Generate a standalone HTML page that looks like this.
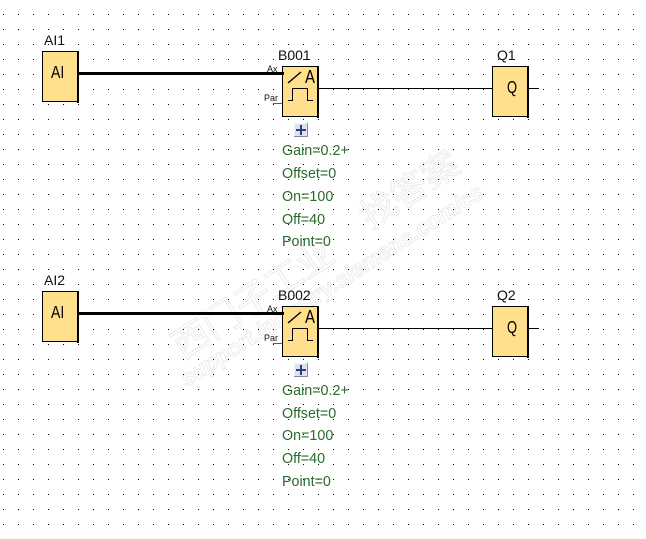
<!DOCTYPE html>
<html><head><meta charset="utf-8"><style>
html,body{margin:0;padding:0;background:#fff}
svg{display:block}
text{font-family:"Liberation Sans","Noto Sans CJK SC",sans-serif}
.l{font-size:14px;fill:#111}
.g{font-size:14.3px;fill:#2a6a2a}
.p{font-size:9px;fill:#111}
.b{fill:#ffdf8c;stroke:#000;stroke-width:1}
.w{fill:#fff;stroke:#ebebeb;stroke-width:1}
</style></head><body>
<svg width="646" height="539" viewBox="0 0 646 539" xmlns="http://www.w3.org/2000/svg">
<defs>
<pattern id="d" x="3" y="14" width="15" height="15" patternUnits="userSpaceOnUse"><rect width="1" height="1" fill="#000"/></pattern>
<g id="fb" shape-rendering="crispEdges">
<rect class="b" x="282.500" y="66.500" width="35" height="50"/>
<rect x="317" y="66" width="2" height="52" fill="#000"/>
<rect x="273" y="103" width="9" height="1" fill="#2a7a2a"/>
<rect x="278" y="72" width="6" height="3" fill="#000"/>
</g>
<g id="sym" fill="none" stroke="#000" stroke-width="1">
<path d="M288 83 L301 72" stroke-width="1.4"/>
<path d="M288 100.500H292.500V88.500H307.500V100.500H313" shape-rendering="crispEdges"/>
</g>
<g id="plus" shape-rendering="crispEdges">
<rect x="294" y="123" width="14" height="14" fill="#8a8a8a"/>
<rect x="294" y="123" width="13" height="13" fill="#f4f4f4"/>
<rect x="295" y="124" width="12" height="12" fill="#dfe1ea"/>
<rect x="296" y="129" width="10" height="2" fill="#24408c"/>
<rect x="300" y="125" width="2" height="10" fill="#24408c"/>
</g>
</defs>
<rect width="646" height="539" fill="#fff"/>
<text class="w" transform="translate(183 360) rotate(-33)" textLength="184" lengthAdjust="spacingAndGlyphs" style="font-size:37px">西门子工业</text>
<text class="w" transform="translate(370 230) rotate(-33)" textLength="110" lengthAdjust="spacingAndGlyphs" style="font-size:35px">找答案</text>
<text class="w" transform="translate(187 387) rotate(-32.600)" textLength="354" lengthAdjust="spacingAndGlyphs" style="font-size:23px;font-style:italic;font-weight:bold">support.industry.siemens.com/cs</text>
<rect x="0" y="0" width="636" height="527" fill="url(#d)" shape-rendering="crispEdges"/>

<g shape-rendering="crispEdges" fill="#000">
<rect x="78" y="72" width="205" height="3"/>
<rect x="318" y="88" width="174" height="1"/>
<rect x="528" y="88" width="11" height="1"/>
<rect x="78" y="312" width="205" height="3"/>
<rect x="318" y="328" width="174" height="1"/>
<rect x="528" y="328" width="11" height="1"/>
<rect class="b" x="42.500" y="51.500" width="35" height="50"/><rect x="77" y="51" width="2" height="52"/>
<rect class="b" x="492.500" y="66.500" width="35" height="50"/><rect x="527" y="66" width="2" height="52"/>
<rect class="b" x="42.500" y="291.500" width="35" height="50"/><rect x="77" y="291" width="2" height="52"/>
<rect class="b" x="492.500" y="306.500" width="35" height="50"/><rect x="527" y="306" width="2" height="52"/>
</g>

<use href="#fb"/><use href="#sym"/><use href="#plus"/>
<use href="#fb" y="240"/><use href="#sym" y="240"/><use href="#plus" y="240"/>

<text class="l" x="44" y="45">AI1</text>
<text class="l" x="278" y="60">B001</text>
<text class="l" x="497" y="60">Q1</text>
<text class="l" x="44" y="285">AI2</text>
<text class="l" x="278" y="300">B002</text>
<text class="l" x="497" y="300">Q2</text>

<text transform="translate(51 78) scale(.78 1)" style="font-size:18px" fill="#000">AI</text>
<text transform="translate(51 318) scale(.78 1)" style="font-size:18px" fill="#000">AI</text>
<text transform="translate(507 93) scale(.72 1)" style="font-size:18px" fill="#000">Q</text>
<text transform="translate(507 333) scale(.72 1)" style="font-size:18px" fill="#000">Q</text>
<text transform="translate(305 83) scale(.83 1)" style="font-size:18px" fill="#000">A</text>
<text transform="translate(305 323) scale(.83 1)" style="font-size:18px" fill="#000">A</text>

<text class="p" x="267" y="72">Ax</text>
<text class="p" x="264" y="101">Par</text>
<text class="p" x="267" y="312">Ax</text>
<text class="p" x="264" y="341">Par</text>

<text class="g" x="282" y="155">Gain=0.2+</text>
<text class="g" x="282" y="178">Offset=0</text>
<text class="g" x="282" y="201">On=100</text>
<text class="g" x="282" y="224">Off=40</text>
<text class="g" x="282" y="246">Point=0</text>
<text class="g" x="282" y="395">Gain=0.2+</text>
<text class="g" x="282" y="418">Offset=0</text>
<text class="g" x="282" y="440">On=100</text>
<text class="g" x="282" y="463">Off=40</text>
<text class="g" x="282" y="486">Point=0</text>
</svg>
</body></html>
